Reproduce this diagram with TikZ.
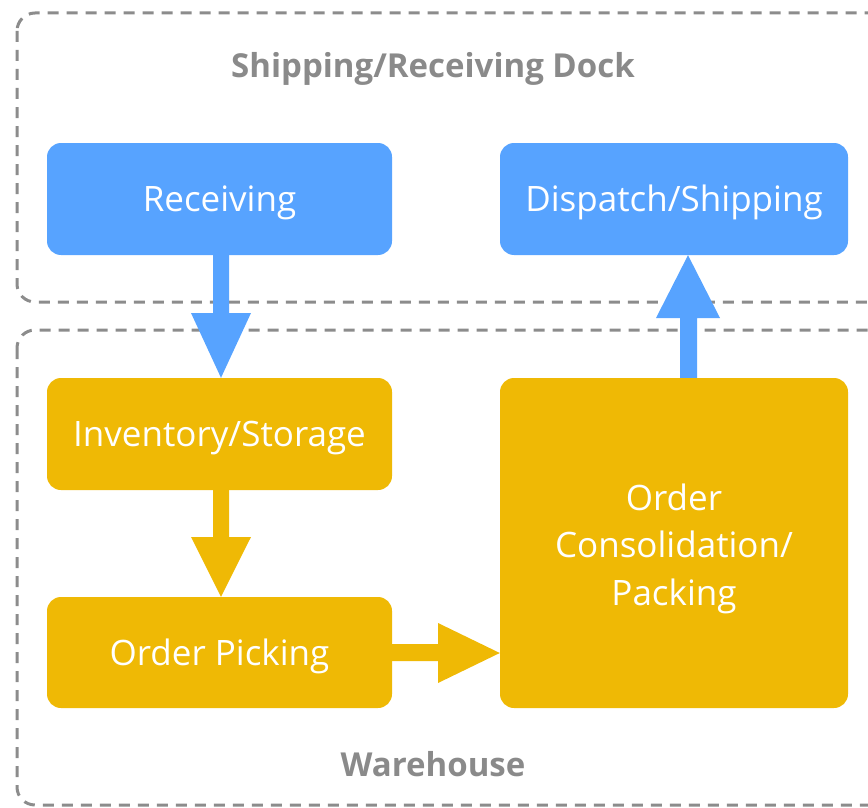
\documentclass[tikz,border=0pt]{standalone}
\usepackage{fontspec}
\setmainfont{Open Sans}
\definecolor{cblue}{HTML}{57A3FF}
\definecolor{cyellow}{HTML}{EFB905}
\definecolor{dashgray}{HTML}{8C8C8C}
\definecolor{labelgray}{HTML}{8A8A8A}
\begin{document}
\begin{tikzpicture}[x=1pt,y=-1pt,
  container/.style={draw=dashgray,line width=3pt,dash pattern=on 11pt off 8pt,rounded corners=18pt},
  boxbase/.style={rounded corners=14pt,text=white,font=\fontsize{35}{47.5}\selectfont,align=center,inner sep=0pt,text height=25pt,text depth=0pt},
  bluebox/.style={boxbase,fill=cblue},
  yellowbox/.style={boxbase,fill=cyellow},
  grouplabel/.style={text=labelgray,font=\bfseries\fontsize{33}{38}\selectfont,inner sep=0pt,text height=23.6pt,text depth=0pt},
  bluearrow/.style={fill=cblue,sharp corners},
  yellowarrow/.style={fill=cyellow,sharp corners}
]
\useasboundingbox (0,0) rectangle (868,808);
% containers (extending beyond right edge)
\draw[container] (17,13) rectangle (900,302);
\draw[container] (17,330) rectangle (900,805);
\node[grouplabel] (docklabel) at (433,65.5) {Shipping/Receiving Dock};
\node[grouplabel] (whlabel) at (433,765) {Warehouse};
% boxes
\node[bluebox,minimum width=345pt,minimum height=112pt] (recv) at (219.5,199) {Receiving};
\node[bluebox,minimum width=348pt,minimum height=112pt] (disp) at (674,199) {Dispatch/Shipping};
\node[yellowbox,minimum width=345pt,minimum height=112pt] (inv) at (219.5,434) {Inventory/Storage};
\node[yellowbox,minimum width=345pt,minimum height=111pt] (pick) at (219.5,652.5) {Order Picking};
\node[yellowbox,minimum width=348pt,minimum height=330pt,text height=124pt,text depth=0pt] (cons) at (674,543) {Order\\Consolidation/\\Packing};
% arrows
\fill[bluearrow] (recv.south -| 213,0) -- (recv.south -| 229,0) -- (229,313) -- (251,313) -- (inv.north -| 221,0) -- (191,313) -- (213,313) -- cycle;
\fill[yellowarrow] (inv.south -| 213,0) -- (inv.south -| 229,0) -- (229,537) -- (251,537) -- (pick.north -| 221,0) -- (191,537) -- (213,537) -- cycle;
\fill[yellowarrow] (pick.east |- 0,644) -- (438,644) -- (438,623) -- (cons.west |- 0,653) -- (438,683) -- (438,661) -- (pick.east |- 0,661) -- cycle;
\fill[bluearrow] (cons.north -| 680,0) -- (cons.north -| 697,0) -- (697,318) -- (720,318) -- (disp.south -| 688,0) -- (656,318) -- (680,318) -- cycle;
\end{tikzpicture}
\end{document}
